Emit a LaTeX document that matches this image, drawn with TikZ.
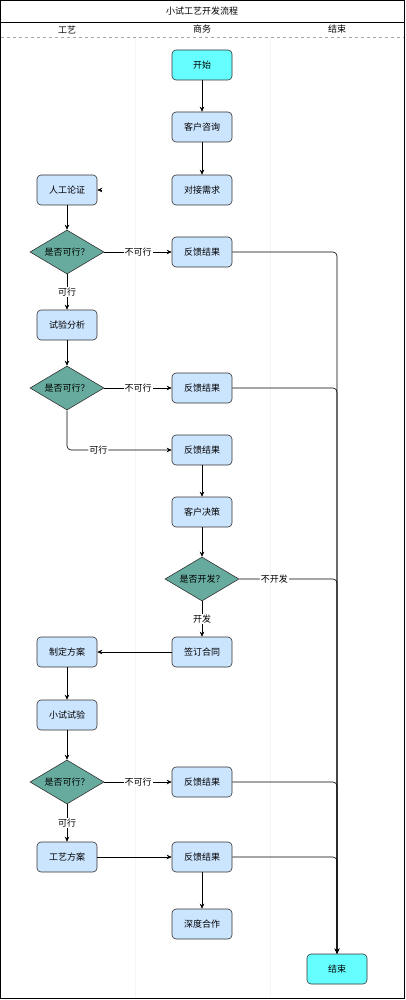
\documentclass[tikz,border=0pt]{standalone}
\usepackage{fontspec}
\setmainfont{Noto Sans CJK SC}
\usetikzlibrary{shapes.geometric,arrows.meta,calc}
\definecolor{boxblue}{HTML}{CCE5FF}
\definecolor{termcyan}{HTML}{66FFFF}
\definecolor{diateal}{HTML}{67AB9F}
\begin{document}
\begin{tikzpicture}[x=1pt,y=1pt,
  font=\fontsize{9}{10}\selectfont,
  stepbox/.style={draw=black!80,fill=boxblue,rounded corners=4pt,minimum width=60pt,minimum height=30pt,line width=0.6pt},
  termbox/.style={stepbox,fill=termcyan},
  decision/.style={diamond,draw=black!80,fill=diateal,minimum width=74pt,minimum height=44pt,aspect=1.7,inner sep=0pt,line width=0.6pt},
  flow/.style={draw=black,line width=0.6pt,-{Stealth[length=5pt,width=4.5pt]}},
  lbl/.style={fill=white,inner sep=1pt,font=\fontsize{9}{10}\selectfont}
]
\useasboundingbox (0,0) rectangle (406,-1000);
% lanes
\draw[black!4,line width=0.8pt] (135,-37) -- (135,-998);
\draw[black!4,line width=0.8pt] (270,-37) -- (270,-998);
\draw[line width=0.8pt] (0.5,-0.5) rectangle (404,-998);
\draw[line width=0.8pt] (0.5,-22) -- (404,-22);
\draw[black!35,dashed,line width=0.4pt] (0.5,-37) -- (404,-37);
\node (title) at (202,-11) {小试工艺开发流程};
\node (h1) at (67,-29.5) {工艺};
\node (h2) at (202,-29.5) {商务};
\node (h3) at (337,-29.5) {结束};
% nodes
\node[termbox] (start) at (202,-65) {开始};
\node[stepbox] (consult) at (202,-127) {客户咨询};
\node[stepbox] (demand) at (202,-190) {对接需求};
\node[stepbox] (manual) at (67,-190) {人工论证};
\node[decision] (d1) at (67,-252) {是否可行？};
\node[stepbox] (fb1) at (202,-252) {反馈结果};
\node[stepbox] (test) at (67,-325) {试验分析};
\node[decision] (d2) at (67,-388) {是否可行？};
\node[stepbox] (fb2) at (202,-388) {反馈结果};
\node[stepbox] (fb3) at (202,-450) {反馈结果};
\node[stepbox] (decide) at (202,-512) {客户决策};
\node[decision] (d3) at (202,-579) {是否开发？};
\node[stepbox] (contract) at (202,-652) {签订合同};
\node[stepbox] (plan) at (67,-652) {制定方案};
\node[stepbox] (trial) at (67,-715) {小试试验};
\node[decision] (d4) at (67,-782) {是否可行？};
\node[stepbox] (fb4) at (202,-782) {反馈结果};
\node[stepbox] (process) at (67,-857) {工艺方案};
\node[stepbox] (fb5) at (202,-857) {反馈结果};
\node[stepbox] (deep) at (202,-924) {深度合作};
\node[termbox] (end) at (337,-969) {结束};
\coordinate (ah) at ($(manual.east)+(5,0)$);
% connectors
\draw[flow] (start) -- (consult);
\draw[flow] (consult) -- (demand);
\draw[flow] (ah) -- (manual.east);
\draw[flow] (manual) -- (d1);
\draw[flow] (d1) -- node[lbl] {不可行} (fb1);
\draw[flow] (d1) -- node[lbl] {可行} (test);
\draw[flow] (test) -- (d2);
\draw[flow] (d2) -- node[lbl] {不可行} (fb2);
\draw[flow,rounded corners=4pt] (d2.south) |- node[lbl,pos=0.65] {可行} (fb3.west);
\draw[flow] (fb3) -- (decide);
\draw[flow] (decide) -- (d3);
\draw[flow] (d3) -- node[lbl] {开发} (contract);
\draw[flow] (contract) -- (plan);
\draw[flow] (plan) -- (trial);
\draw[flow] (trial) -- (d4);
\draw[flow] (d4) -- node[lbl] {不可行} (fb4);
\draw[flow] (d4) -- node[lbl] {可行} (process);
\draw[flow] (process) -- (fb5);
\draw[flow] (fb5) -- (deep);
\draw[flow,rounded corners=4pt] (fb1.east) -| (end.north);
\draw[flow,rounded corners=4pt] (fb2.east) -| (end.north);
\draw[flow,rounded corners=4pt] (d3.east) -| node[lbl,pos=0.18] {不开发} (end.north);
\draw[flow,rounded corners=4pt] (fb4.east) -| (end.north);
\draw[flow,rounded corners=4pt] (fb5.east) -| (end.north);
\end{tikzpicture}
\end{document}
